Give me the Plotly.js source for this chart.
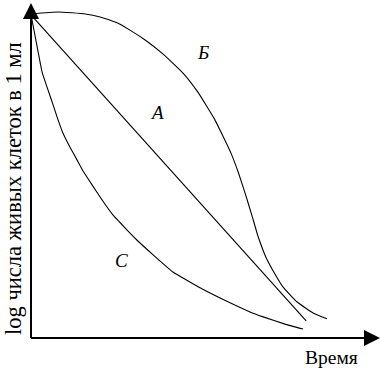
<!DOCTYPE html>
<html>
<head>
<meta charset="utf-8">
<script src="https://cdn.plot.ly/plotly-3.0.1.min.js"></script>
<style>html,body{margin:0;padding:0;background:#fff;}#chart{width:381px;height:370px;}</style>
</head>
<body>
<div id="chart"></div>
<script>
// Curve A: straight line (first-order kinetics)
const timeA = [0, 7.93];
const logA  = [9.79, 0.52];
// Curve B: convex (shoulder)
const timeB = [0, 0.78, 1.56, 1.99, 2.48, 2.85, 3.29, 3.80, 4.38, 4.81, 5.30, 5.53, 5.76, 5.97, 6.17, 6.37, 6.54, 6.77, 7.03, 7.26, 7.67, 8.13, 8.53];
const logB  = [9.82, 9.88, 9.82, 9.73, 9.55, 9.33, 9.03, 8.61, 8.03, 7.45, 6.61, 6.12, 5.61, 5.03, 4.39, 3.70, 3.09, 2.45, 1.94, 1.55, 1.09, 0.76, 0.58];
// Curve C: concave (tailing)
const timeC = [0, 0.14, 0.32, 0.61, 0.75, 0.92, 1.12, 1.33, 1.50, 1.76, 2.05, 2.36, 2.77, 3.05, 3.52, 4.09, 4.87, 5.45, 6.31, 6.69, 7.32, 7.84];
const logC  = [9.79, 9.03, 8.06, 7.15, 6.70, 6.21, 5.79, 5.39, 5.06, 4.64, 4.18, 3.73, 3.27, 2.97, 2.52, 2.00, 1.52, 1.21, 0.79, 0.64, 0.42, 0.27];
// Curve labels
const curveNames = ["A", "Б", "C"];
const labelX = [3.63, 4.96, 2.62];
const labelY = [6.82, 8.64, 2.36];
const xTitle = "Время";
const yTitle = "log числа живых клеток в 1 мл";

const W = 381, H = 370, ml = 31, mr = 3, mt = 8, mb = 32;
const pw = W - ml - mr, ph = H - mt - mb;
const px2paperX = p => (p - ml) / pw;
const px2paperY = p => (H - mb - p) / ph;

const lineStyle = {color: "#000", width: 1.1};
const traces = [
  {x: timeA, y: logA, mode: "lines", line: lineStyle, name: "A", hoverinfo: "skip"},
  {x: timeB, y: logB, mode: "lines", line: Object.assign({shape: "spline", smoothing: 0.4}, lineStyle), name: "Б", hoverinfo: "skip"},
  {x: timeC, y: logC, mode: "lines", line: Object.assign({shape: "spline", smoothing: 0.3}, lineStyle), name: "C", hoverinfo: "skip"}
];

const serif = "'Liberation Serif', 'Times New Roman', serif";
const annotations = [];
for (let i = 0; i < curveNames.length; i++) {
  annotations.push({
    x: labelX[i], y: labelY[i], xref: "x", yref: "y", xanchor: "center", yanchor: "middle",
    text: "<i>" + curveNames[i] + "</i>",
    showarrow: false, font: {family: serif, size: 19, color: "#000"}
  });
}
annotations.push({x: px2paperX(331), y: px2paperY(357), xref: "paper", yref: "paper",
  xanchor: "center", yanchor: "middle", text: xTitle, showarrow: false,
  font: {family: serif, size: 19.5, color: "#000"}});
annotations.push({x: px2paperX(13), y: px2paperY(189), xref: "paper", yref: "paper",
  xanchor: "center", yanchor: "middle", text: yTitle, showarrow: false, textangle: -90,
  font: {family: serif, size: 22.5, color: "#000"}});
// arrowheads at axis ends (pixel offsets for the short tail)
annotations.push({x: px2paperX(31), y: px2paperY(3), xref: "paper", yref: "paper", ax: 0, ay: 25,
  text: " ", showarrow: true, arrowhead: 2, arrowsize: 1.6, arrowwidth: 2, arrowcolor: "#000", standoff: 0});
annotations.push({x: px2paperX(380), y: px2paperY(338), xref: "paper", yref: "paper", ax: -25, ay: 0,
  text: " ", showarrow: true, arrowhead: 2, arrowsize: 1.6, arrowwidth: 2, arrowcolor: "#000", standoff: 0});

// axis lines (decoration, in paper coords)
const x0 = px2paperX(31), y0 = px2paperY(338);
const shapes = [
  {type: "line", xref: "paper", yref: "paper", x0: x0, y0: y0, x1: x0, y1: px2paperY(10), line: {color: "#000", width: 2}},
  {type: "line", xref: "paper", yref: "paper", x0: x0, y0: y0, x1: px2paperX(370), y1: y0, line: {color: "#000", width: 2}}
];

const layout = {
  width: W, height: H,
  margin: {l: ml, r: mr, t: mt, b: mb, pad: 0},
  paper_bgcolor: "#fff", plot_bgcolor: "#fff",
  showlegend: false,
  xaxis: {range: [0, 10], showgrid: false, zeroline: false, showticklabels: false, ticks: "", showline: false, fixedrange: true},
  yaxis: {range: [0, 10], showgrid: false, zeroline: false, showticklabels: false, ticks: "", showline: false, fixedrange: true},
  annotations: annotations,
  shapes: shapes
};

Plotly.newPlot("chart", traces, layout, {displayModeBar: false, staticPlot: true});
</script>
</body>
</html>
